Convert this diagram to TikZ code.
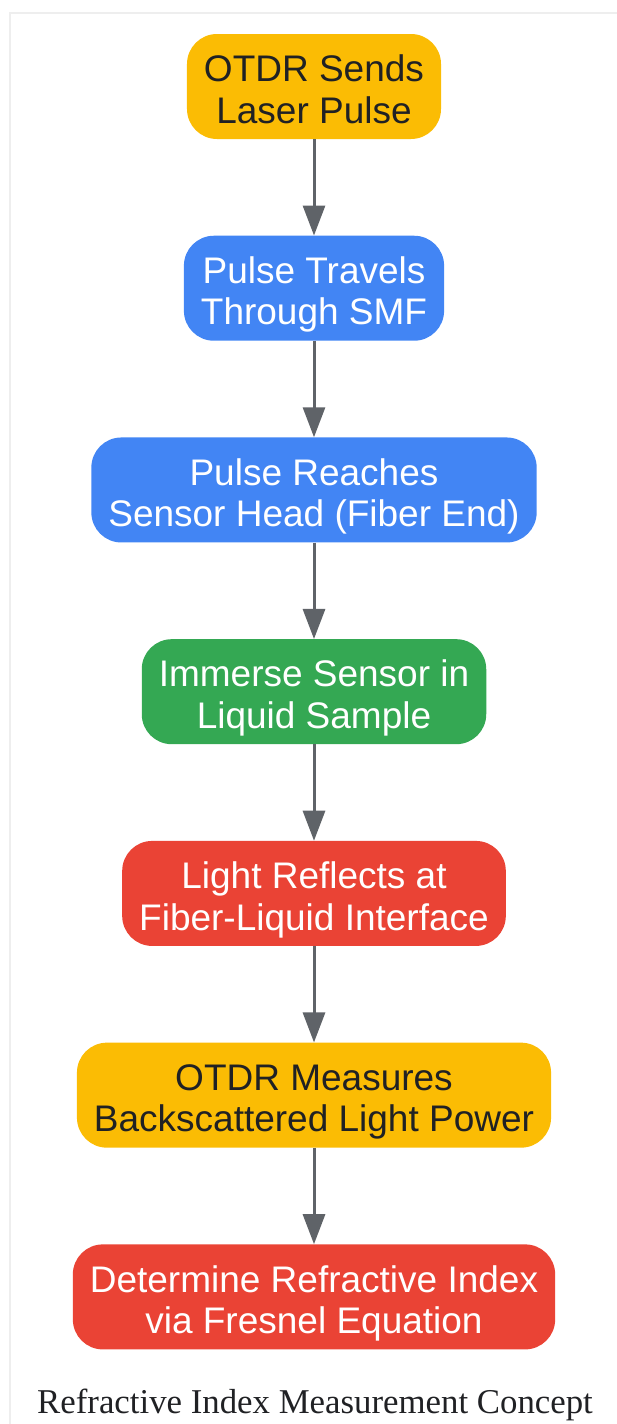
\documentclass[tikz,border=0pt]{standalone}
\usepackage{fontspec}
\setmainfont{Liberation Serif}
\setsansfont{Liberation Sans}
\usetikzlibrary{arrows.meta, positioning}

\definecolor{gyellow}{HTML}{FBBC04}
\definecolor{gblue}{HTML}{4285F4}
\definecolor{ggreen}{HTML}{34A853}
\definecolor{gred}{HTML}{EA4335}
\definecolor{gline}{HTML}{5F6368}
\definecolor{gtext}{HTML}{202124}
\definecolor{gframe}{HTML}{EEEEEE}

\begin{document}
\begin{tikzpicture}[x=1pt, y=1pt,
    node distance=96.33pt,
    % Compact styles for the flow steps
    stepbox/.style={rounded corners=30pt, minimum height=105pt, inner xsep=17pt, align=center,
        text height=80pt, text depth=6.5pt, font=\sffamily\fontsize{37}{41.5}\selectfont},
    syellow/.style={stepbox, fill=gyellow, text=gtext},
    sblue/.style={stepbox, fill=gblue, text=white},
    sgreen/.style={stepbox, fill=ggreen, text=white},
    sred/.style={stepbox, fill=gred, text=white},
    flow/.style={draw=gline, line width=3pt, -{Triangle[length=30pt, width=22pt]}},
    caption/.style={text=gtext, font=\rmfamily\fontsize{34.8}{40}\selectfont}]

\useasboundingbox (0,0) rectangle (617,-1424);

% Frame round the diagram
\draw[gframe, line width=2pt] (10,-1424) -- (10,-13) -- (617,-13);

% Steps, top to bottom
\node[syellow] (send) at (314,-86.5) {OTDR Sends\\Laser Pulse};
\node[sblue, below=of send] (travel) {Pulse Travels\\Through SMF};
\node[sblue, below=of travel] (reach) {Pulse Reaches\\Sensor Head (Fiber End)};
\node[sgreen, below=of reach] (immerse) {Immerse Sensor in\\Liquid Sample};
\node[sred, below=of immerse] (reflect) {Light Reflects at\\Fiber-Liquid Interface};
\node[syellow, below=of reflect] (measure) {OTDR Measures\\Backscattered Light Power};
\node[sred, below=of measure] (index) {Determine Refractive Index\\via Fresnel Equation};

% Connect the steps
\draw[flow] (send) -- (travel);
\draw[flow] (travel) -- (reach);
\draw[flow] (reach) -- (immerse);
\draw[flow] (immerse) -- (reflect);
\draw[flow] (reflect) -- (measure);
\draw[flow] (measure) -- (index);

% Caption
\node[caption, anchor=base] (title) at (315,-1413) {Refractive Index Measurement Concept};

\end{tikzpicture}
\end{document}
